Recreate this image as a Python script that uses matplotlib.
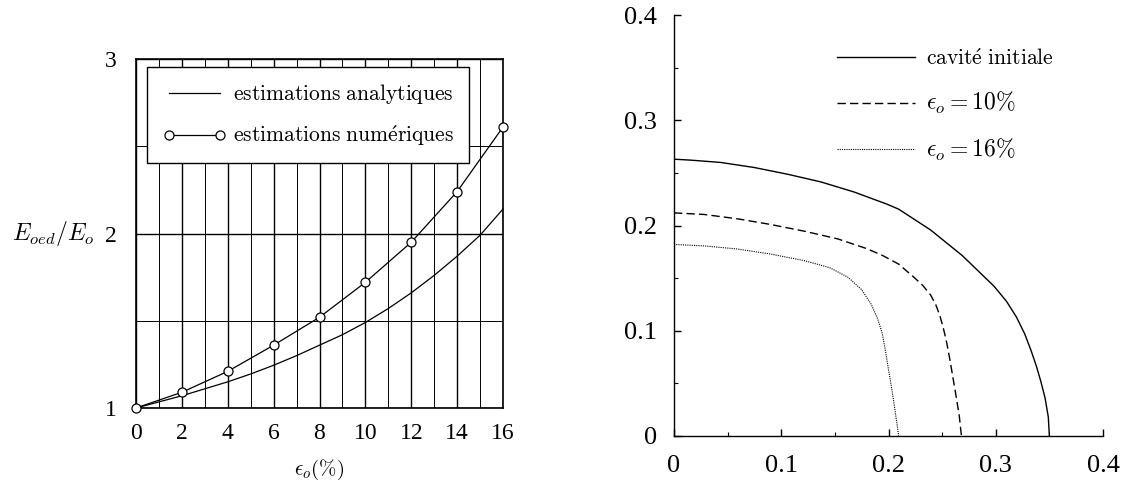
import matplotlib
matplotlib.use("Agg")
import matplotlib.pyplot as plt
from matplotlib.ticker import MultipleLocator, FixedLocator

# ---- data: left panel ----
eps_num = [0, 2, 4, 6, 8, 10, 12, 14, 16]
ratio_num = [1.0, 1.09, 1.21, 1.36, 1.52, 1.72, 1.95, 2.24, 2.61]
eps_ana = [0, 1, 2, 3, 4, 5, 6, 7, 8, 9, 10, 11, 12, 13, 14, 15, 16]
ratio_ana = [1.0, 1.035, 1.07, 1.11, 1.15, 1.195, 1.245, 1.30, 1.36, 1.42,
             1.49, 1.57, 1.66, 1.76, 1.87, 1.99, 2.14]
xticks_left = [0, 2, 4, 6, 8, 10, 12, 14, 16]
yticks_left = [1, 2, 3]

# ---- data: right panel (cavity profiles) ----
x_init = [0.0, 0.0156, 0.0436, 0.0748, 0.106, 0.137, 0.168, 0.199, 0.2095, 0.2392,
          0.2688, 0.2985, 0.310, 0.3193, 0.327, 0.333, 0.338, 0.342, 0.346, 0.349, 0.350]
y_init = [0.263, 0.2621, 0.2599, 0.2551, 0.2487, 0.2414, 0.2318, 0.2201, 0.2155, 0.1958,
          0.1714, 0.1422, 0.128, 0.113, 0.097, 0.081, 0.066, 0.052, 0.036, 0.018, 0.0]
x_10 = [0.0, 0.028, 0.059, 0.090, 0.1215, 0.1526, 0.1798, 0.1947, 0.2095, 0.2243,
        0.232, 0.2392, 0.244, 0.248, 0.251, 0.254, 0.257, 0.260, 0.263, 0.266, 0.268]
y_10 = [0.212, 0.2105, 0.2064, 0.201, 0.1946, 0.1873, 0.178, 0.1714, 0.1633, 0.1503,
        0.143, 0.1341, 0.125, 0.114, 0.103, 0.090, 0.074, 0.056, 0.038, 0.019, 0.0]
x_16 = [0.0, 0.028, 0.059, 0.090, 0.1215, 0.145, 0.162, 0.175, 0.184, 0.190,
        0.194, 0.197, 0.200, 0.203, 0.206, 0.2095]
y_16 = [0.182, 0.1806, 0.1777, 0.1729, 0.1666, 0.160, 0.151, 0.139, 0.125, 0.111,
        0.098, 0.082, 0.063, 0.045, 0.025, 0.0]
ticks_right = [0, 0.1, 0.2, 0.3, 0.4]
ticklabels_right = ["0", "0.1", "0.2", "0.3", "0.4"]

plt.rcParams['mathtext.fontset'] = 'cm'
plt.rcParams['font.family'] = ['Liberation Serif', 'DejaVu Serif']

fig = plt.figure(figsize=(11.48, 4.82), dpi=100)

# ---------------- left panel ----------------
ax1 = fig.add_axes([136/1148, 1-408/482, 367/1148, 349/482])
ax1.set_xlim(0, 16)
ax1.set_ylim(1, 3)
ax1.xaxis.set_major_locator(FixedLocator(xticks_left))
ax1.xaxis.set_minor_locator(MultipleLocator(1))
ax1.yaxis.set_major_locator(FixedLocator(yticks_left))
ax1.yaxis.set_minor_locator(MultipleLocator(0.5))
ax1.grid(which='major', color='black', lw=1.0)
ax1.grid(which='minor', color='black', lw=0.7)
ax1.set_axisbelow(True)
ax1.tick_params(which='both', length=0)
ax1.tick_params(axis='x', pad=11, labelsize=17)
ax1.tick_params(axis='y', pad=14, labelsize=17)
for s in ax1.spines.values():
    s.set_linewidth(1.2)

l1, = ax1.plot(eps_ana, ratio_ana, color='black', lw=0.9, clip_on=False)
l2, = ax1.plot(eps_num, ratio_num, color='black', lw=0.9, marker='o', ms=6.5,
               mfc='white', mec='black', mew=0.9, clip_on=False, zorder=5)
leg1 = ax1.legend([l1, l2],
                  [r'$\mathrm{estimations\ analytiques}$',
                   r'$\mathrm{estimations\ num\acute{e}riques}$'],
                  loc='upper left', bbox_to_anchor=(11/367, 1-8/349),
                  fontsize=15.5, frameon=True, fancybox=False, framealpha=1,
                  edgecolor='black', handlelength=3.0, handletextpad=0.3,
                  borderpad=0.7, labelspacing=0.8, numpoints=2,
                  borderaxespad=0)
leg1.get_frame().set_linewidth(1.0)
ax1.set_ylabel(r'$E_{oed}/E_o$', rotation=0, fontsize=17, labelpad=37, va='center')
ax1.set_xlabel(r'$\epsilon_o(\%)$', fontsize=15, labelpad=10)

# ---------------- right panel ----------------
ax2 = fig.add_axes([674/1148, 1-436/482, 429/1148, 421/482])
ax2.set_xlim(0, 0.4)
ax2.set_ylim(0, 0.4)
ax2.spines['top'].set_visible(False)
ax2.spines['right'].set_visible(False)
ax2.spines['left'].set_linewidth(1.0)
ax2.spines['bottom'].set_linewidth(1.0)
ax2.set_xticks(ticks_right)
ax2.set_xticklabels(ticklabels_right)
ax2.set_yticks(ticks_right)
ax2.set_yticklabels(ticklabels_right)
ax2.xaxis.set_minor_locator(MultipleLocator(0.05))
ax2.yaxis.set_minor_locator(MultipleLocator(0.05))
ax2.tick_params(which='major', direction='in', length=5, width=1.0, labelsize=19)
ax2.tick_params(which='minor', direction='in', length=3, width=0.8)
ax2.tick_params(axis='x', pad=14)
ax2.tick_params(axis='y', pad=12)

r1, = ax2.plot(x_init, y_init, color='black', lw=1.0, ls='-')
r2, = ax2.plot(x_10, y_10, color='black', lw=1.0, ls=(0, (6, 3)))
r3, = ax2.plot(x_16, y_16, color='black', lw=0.8, ls=(0, (1, 1)))
leg2 = ax2.legend([r1, r2, r3],
                  [r'$\mathrm{cavit\acute{e}\ initiale}$',
                   r'$\epsilon_o = 10\%$', r'$\epsilon_o = 16\%$'],
                  loc='upper left', bbox_to_anchor=(163/429, 1-34/421),
                  fontsize=15.5, frameon=False, handlelength=3.6,
                  handletextpad=0.55, labelspacing=0.95, borderaxespad=0,
                  borderpad=0)
for t in leg2.get_texts()[1:]:
    t.set_fontsize(17)

fig.savefig('out.png', dpi=100)
